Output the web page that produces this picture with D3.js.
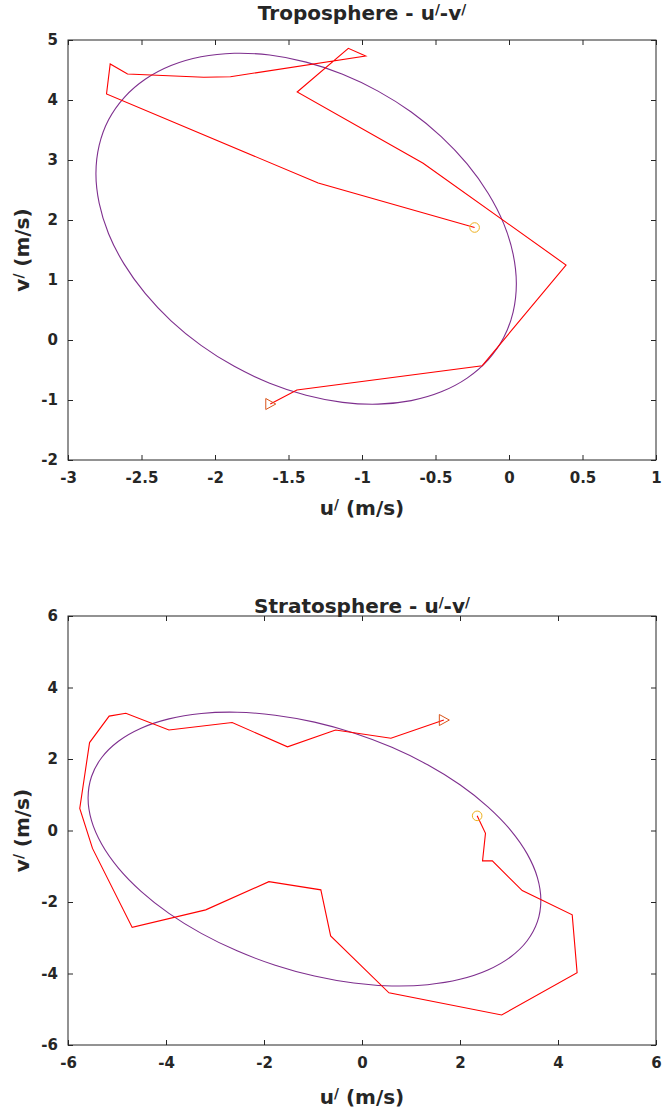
<!DOCTYPE html>
<html>
<head>
<meta charset="utf-8">
<script src="https://cdn.jsdelivr.net/npm/d3@7"></script>
<style>
  body { margin: 0; background: #fff; }
  svg { display: block; }
  text { font-family: "DejaVu Sans", sans-serif; font-weight: bold; fill: #262626; }
</style>
</head>
<body>
<svg id="fig" width="662" height="1108"></svg>
<script>
// ---- Troposphere hodograph (perturbation wind, m/s) ----
const tropoU = [-0.234, -1.298, -2.738, -2.713, -2.595, -2.076, -1.895, -0.975, -1.093, -1.441, -0.584, 0.388, -0.182, -1.443, -1.624];
const tropoV = [1.875, 2.617, 4.100, 4.600, 4.433, 4.378, 4.388, 4.733, 4.862, 4.133, 2.945, 1.250, -0.428, -0.833, -1.067];

// fitted wave ellipse, troposphere
const tropoEllipseU = [0.050, 0.028, -0.036, -0.142, -0.285, -0.461, -0.665, -0.891, -1.132, -1.380, -1.628, -1.869,
  -2.095, -2.299, -2.475, -2.618, -2.724, -2.788, -2.810, -2.788, -2.724, -2.618, -2.475, -2.299,
  -2.095, -1.869, -1.628, -1.380, -1.132, -0.891, -0.665, -0.461, -0.285, -0.142, -0.036, 0.028];
const tropoEllipseV = [0.934, 0.466, 0.040, -0.331, -0.635, -0.864, -1.010, -1.069, -1.039, -0.921, -0.719, -0.439,
  -0.089, 0.320, 0.776, 1.264, 1.771, 2.280, 2.776, 3.244, 3.670, 4.041, 4.345, 4.574,
  4.720, 4.779, 4.749, 4.631, 4.429, 4.148, 3.799, 3.390, 2.934, 2.446, 1.939, 1.430];

// ---- Stratosphere hodograph ----
const stratoU = [2.35, 2.52, 2.46, 2.66, 3.27, 4.29, 4.39, 2.85, 0.55, -0.64, -0.84, -1.90, -3.19, -4.69, -5.50,
  -5.76, -5.56, -5.16, -4.82, -3.94, -2.65, -1.52, -0.54, 0.59, 1.67];
const stratoV = [0.41, -0.08, -0.85, -0.85, -1.68, -2.36, -3.98, -5.16, -4.54, -2.95, -1.66, -1.43, -2.22, -2.71, -0.50,
  0.62, 2.46, 3.20, 3.28, 2.81, 3.02, 2.34, 2.81, 2.58, 3.09];

// fitted wave ellipse, stratosphere
const stratoEllipseU = [3.650, 3.580, 3.371, 3.031, 2.569, 2.000, 1.340, 0.610, -0.168, -0.970, -1.772, -2.550,
  -3.280, -3.940, -4.509, -4.971, -5.311, -5.520, -5.590, -5.520, -5.311, -4.971, -4.509, -3.940,
  -3.280, -2.550, -1.772, -0.970, -0.168, 0.610, 1.340, 2.000, 2.569, 3.031, 3.371, 3.580];
const stratoEllipseV = [-1.955, -2.550, -3.083, -3.538, -3.902, -4.163, -4.313, -4.348, -4.266, -4.071, -3.768, -3.366,
  -2.878, -2.318, -1.703, -1.053, -0.386, 0.276, 0.915, 1.510, 2.043, 2.498, 2.862, 3.123,
  3.273, 3.308, 3.226, 3.031, 2.728, 2.326, 1.838, 1.278, 0.663, 0.013, -0.654, -1.316];

// ---- tick values and labels ----
const tropoTicksX = [-3, -2.5, -2, -1.5, -1, -0.5, 0, 0.5, 1];
const tropoTickLabelsX = ["-3", "-2.5", "-2", "-1.5", "-1", "-0.5", "0", "0.5", "1"];
const tropoTicksY = [-2, -1, 0, 1, 2, 3, 4, 5];
const tropoTickLabelsY = ["-2", "-1", "0", "1", "2", "3", "4", "5"];
const stratoTicksX = [-6, -4, -2, 0, 2, 4, 6];
const stratoTickLabelsX = ["-6", "-4", "-2", "0", "2", "4", "6"];
const stratoTicksY = [-6, -4, -2, 0, 2, 4, 6];
const stratoTickLabelsY = ["-6", "-4", "-2", "0", "2", "4", "6"];

const COLORS = { path: "#ff0000", ellipse: "#7e2f8e", start: "#edb120", end: "#d95319", axis: "#262626" };
const TICK_FONT = 15, LABEL_FONT = 20;

const svg = d3.select("#fig");

// text made of plain runs and superscript runs ("/" marks a perturbation quantity)
function richText(sel, parts, size) {
  sel.attr("font-size", size);
  const rise = size * 0.3;
  let raised = false;
  parts.forEach(([s, sup]) => {
    const t = sel.append("tspan").text(s);
    if (sup) {
      t.attr("font-size", size * 0.68).attr("dy", -rise);
      raised = true;
    } else {
      t.attr("font-size", size);
      if (raised) { t.attr("dy", rise); raised = false; }
    }
  });
}

function drawPanel(p) {
  const x = d3.scaleLinear().domain(p.xDomain).range([p.left, p.right]);
  const y = d3.scaleLinear().domain(p.yDomain).range([p.bottom, p.top]);
  const g = svg.append("g");

  const fmt = (vals, labels) => v => labels[vals.indexOf(v)];

  const bottomAxis = d3.axisBottom(x).tickValues(p.ticksX).tickFormat(fmt(p.ticksX, p.labelsX))
    .tickSizeInner(-5).tickSizeOuter(0).tickPadding(12);
  const leftAxis = d3.axisLeft(y).tickValues(p.ticksY).tickFormat(fmt(p.ticksY, p.labelsY))
    .tickSizeInner(-5).tickSizeOuter(0).tickPadding(10);
  const topAxis = d3.axisTop(x).tickValues(p.ticksX).tickFormat(() => null).tickSizeInner(-5).tickSizeOuter(0);
  const rightAxis = d3.axisRight(y).tickValues(p.ticksY).tickFormat(() => null).tickSizeInner(-5).tickSizeOuter(0);

  const axes = [
    [bottomAxis, `translate(0,${p.bottom})`, true],
    [leftAxis, `translate(${p.left},0)`, true],
    [topAxis, `translate(0,${p.top})`, false],
    [rightAxis, `translate(${p.right},0)`, false]
  ];
  axes.forEach(([ax, tr, labelled]) => {
    const a = g.append("g").attr("transform", tr).call(ax);
    a.select(".domain").remove();
    a.selectAll(".tick line").attr("stroke", COLORS.axis);
    if (labelled) {
      a.selectAll(".tick text").attr("font-size", TICK_FONT).attr("font-family", null).attr("fill", COLORS.axis);
    } else {
      a.selectAll(".tick text").remove();
    }
  });

  g.append("rect")
    .attr("x", p.left).attr("y", p.top)
    .attr("width", p.right - p.left).attr("height", p.bottom - p.top)
    .attr("fill", "none").attr("stroke", COLORS.axis).attr("stroke-width", 1);

  const line = d3.line().x(d => x(d[0])).y(d => y(d[1]));

  const ell = d3.zip(p.ellU, p.ellV);
  g.append("path").attr("d", d3.line().x(d => x(d[0])).y(d => y(d[1])).curve(d3.curveCatmullRomClosed)(ell))
    .attr("fill", "none").attr("stroke", COLORS.ellipse).attr("stroke-width", 1.1);

  const pts = d3.zip(p.u, p.v);
  g.append("path").attr("d", line(pts))
    .attr("fill", "none").attr("stroke", COLORS.path).attr("stroke-width", 1.1);

  const first = pts[0], last = pts[pts.length - 1];
  g.append("circle").attr("cx", x(first[0])).attr("cy", y(first[1])).attr("r", 4.8)
    .attr("fill", "none").attr("stroke", COLORS.start).attr("stroke-width", 1);
  g.append("path")
    .attr("transform", `translate(${x(last[0])},${y(last[1])})`)
    .attr("d", "M-4.5,-5.5L5.5,0L-4.5,5.5Z")
    .attr("fill", "none").attr("stroke", COLORS.end).attr("stroke-width", 1);

  // title
  richText(g.append("text").attr("x", (p.left + p.right) / 2).attr("y", p.titleY)
    .attr("text-anchor", "middle"), p.title, LABEL_FONT);
  // x label
  richText(g.append("text").attr("x", (p.left + p.right) / 2).attr("y", p.xLabelY)
    .attr("text-anchor", "middle"), [["u", false], ["/", true], [" (m/s)", false]], LABEL_FONT);
  // y label
  richText(g.append("text")
    .attr("transform", `translate(${p.yLabelX},${(p.top + p.bottom) / 2}) rotate(-90)`)
    .attr("text-anchor", "middle"), [["v", false], ["/", true], [" (m/s)", false]], LABEL_FONT);
}

drawPanel({
  title: [["Troposphere - u", false], ["/", true], ["-v", false], ["/", true]],
  xDomain: [-3, 1], yDomain: [-2, 5],
  left: 68, right: 656, top: 40, bottom: 460,
  ticksX: tropoTicksX, labelsX: tropoTickLabelsX, ticksY: tropoTicksY, labelsY: tropoTickLabelsY,
  u: tropoU, v: tropoV, ellU: tropoEllipseU, ellV: tropoEllipseV,
  titleY: 20, xLabelY: 515, yLabelX: 29
});

drawPanel({
  title: [["Stratosphere - u", false], ["/", true], ["-v", false], ["/", true]],
  xDomain: [-6, 6], yDomain: [-6, 6],
  left: 68, right: 656, top: 616, bottom: 1045,
  ticksX: stratoTicksX, labelsX: stratoTickLabelsX, ticksY: stratoTicksY, labelsY: stratoTickLabelsY,
  u: stratoU, v: stratoV, ellU: stratoEllipseU, ellV: stratoEllipseV,
  titleY: 613, xLabelY: 1104, yLabelX: 29
});
</script>
</body>
</html>
